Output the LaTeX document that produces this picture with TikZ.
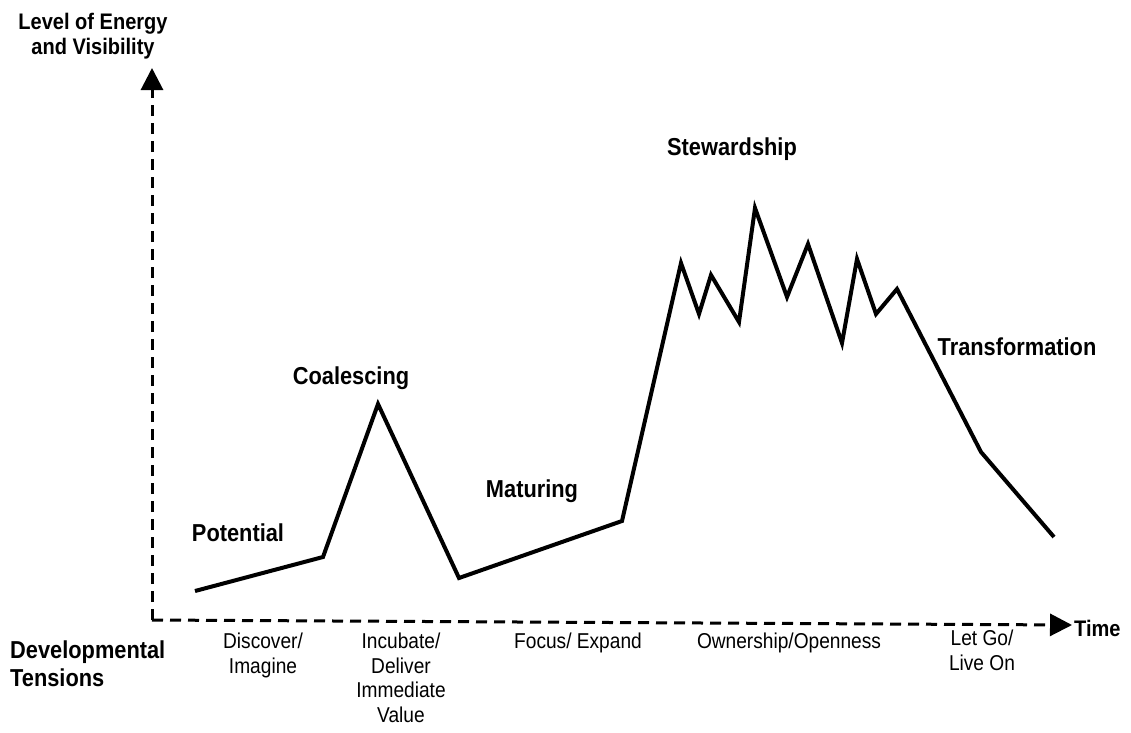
\documentclass[tikz,border=0pt]{standalone}
\usepackage{fontspec}
\setmainfont{Liberation Sans}[FakeStretch=0.89]
\usetikzlibrary{arrows.meta}
\begin{document}
\begin{tikzpicture}[x=1pt,y=-1pt,
  axisline/.style={line width=3pt,dash pattern=on 11pt off 7pt,
    -{Triangle[length=22pt,width=22pt]}},
  energyline/.style={line width=4pt,line join=miter,miter limit=10},
  stagelabel/.style={font=\bfseries\fontsize{24.5}{28}\selectfont,inner sep=0pt},
  axistitle/.style={font=\bfseries\fontsize{22.5}{25}\selectfont,align=center,inner sep=0pt},
  tensionlabel/.style={font=\fontsize{21.5}{24.5}\selectfont,align=center,inner sep=0pt,anchor=north}]
\useasboundingbox (0,0) rectangle (1131,732);

% axes
\coordinate (origin) at (152,620);
\coordinate (ytop) at (152,68);
\coordinate (xend) at (1072,625);
\draw[axisline] (origin) -- (ytop);
\draw[axisline] (origin) -- (xend);

% energy curve
\coordinate (p0) at (195,591);
\coordinate (p1) at (323,557);
\coordinate (p2) at (378,404);
\coordinate (p3) at (459,578);
\coordinate (p4) at (622,521);
\coordinate (p5) at (681,263);
\coordinate (p6) at (699,314);
\coordinate (p7) at (711,275);
\coordinate (p8) at (739,322);
\coordinate (p9) at (755,208);
\coordinate (p10) at (787,297);
\coordinate (p11) at (808,244);
\coordinate (p12) at (842,343);
\coordinate (p13) at (857,259);
\coordinate (p14) at (876,314);
\coordinate (p15) at (897,289);
\coordinate (p16) at (981,452);
\coordinate (p17) at (1054,537);
\draw[energyline] (p0) -- (p1) -- (p2) -- (p3) -- (p4) -- (p5) -- (p6) -- (p7)
  -- (p8) -- (p9) -- (p10) -- (p11) -- (p12) -- (p13) -- (p14) -- (p15)
  -- (p16) -- (p17);

% axis titles
\node[axistitle] (ylabel) at (93,36) {Level of Energy\\and Visibility};
\node[font=\bfseries\fontsize{22.5}{24}\selectfont,inner sep=0pt,anchor=west] (xlabel) at (1074,628) {Time};
\node[font=\bfseries\fontsize{24.5}{28}\selectfont,align=left,inner sep=0pt,anchor=west] (devlabel) at (10,664) {Developmental\\Tensions};

% stage names
\node[stagelabel] (potential) at (238,533) {Potential};
\node[stagelabel] (coalescing) at (351,378) {Coalescing};
\node[stagelabel] (maturing) at (532,491) {Maturing};
\node[stagelabel] (stewardship) at (732,149) {Stewardship};
\node[stagelabel] (transformation) at (1017,347) {Transformation};

% developmental tensions
\node[tensionlabel] (t1) at (263,633) {Discover/\\Imagine};
\node[tensionlabel] (t2) at (401,633) {Incubate/\\Deliver\\Immediate\\Value};
\node[tensionlabel] (t3) at (578,633) {Focus/ Expand};
\node[tensionlabel] (t4) at (789,633) {Ownership/Openness};
\node[tensionlabel] (t5) at (982,630) {Let Go/\\Live On};
\end{tikzpicture}
\end{document}
